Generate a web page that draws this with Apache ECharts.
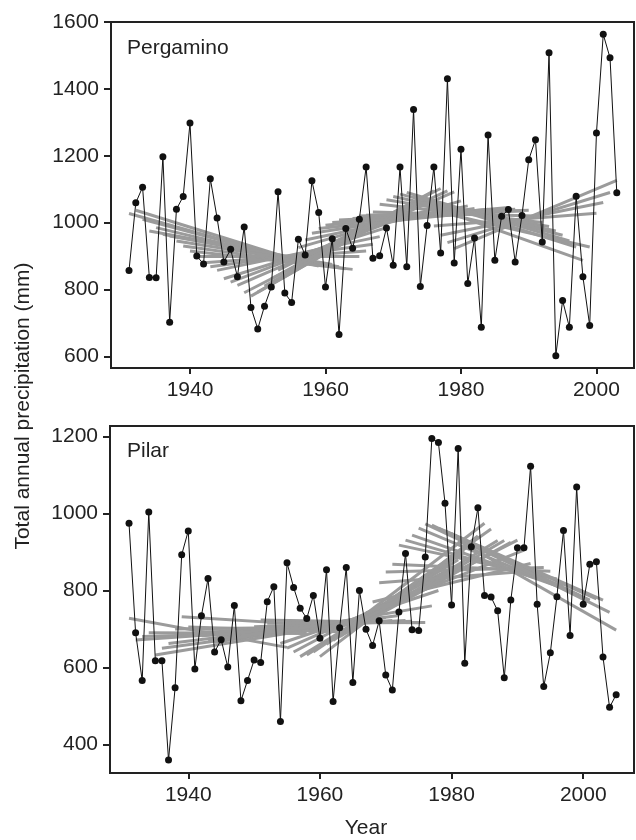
<!DOCTYPE html>
<html>
<head>
<meta charset="utf-8">
<script src="https://cdn.jsdelivr.net/npm/echarts@6/dist/echarts.min.js"></script>
<style>
html,body{margin:0;padding:0;background:#fff;}
#chart{width:636px;height:840px;}
</style>
</head>
<body>
<div id="chart"></div>
<script>
// ---------- Pergamino ----------
const pergYears = [1931,1932,1933,1934,1935,1936,1937,1938,1939,1940,1941,1942,1943,1944,1945,1946,1947,1948,1949,1950,
  1951,1952,1953,1954,1955,1956,1957,1958,1959,1960,1961,1962,1963,1964,1965,1966,1967,1968,1969,1970,
  1971,1972,1973,1974,1975,1976,1977,1978,1979,1980,1981,1982,1983,1984,1985,1986,1987,1988,1989,1990,
  1991,1992,1993,1994,1995,1996,1997,1998,1999,2000,2001,2002,2003];
const pergPrecip = [857,1059,1106,836,835,1197,702,1040,1078,1298,900,876,1131,1014,882,920,838,987,746,682,
  750,807,1092,789,761,950,903,1125,1030,807,952,665,982,923,1010,1166,893,901,984,872,
  1166,868,1338,809,991,1166,909,1430,879,1219,818,954,687,1262,887,1019,1039,882,1021,1188,
  1248,942,1508,602,767,687,1079,838,692,1268,1563,1493,1089];
// trend segments (window start year/value, end year/value)
const pergSegStartYear = [1931,1932,1933,1934,1935,1936,1937,1938,1939,1940,1941,1942,1943,1944,1945,1946,1947,1948,1949,1950,
  1951,1952,1953,1954,1955,1956,1957,1958,1959,1960,1961,1962,1963,1964,1965,1966,1967,1968,1969,1970,
  1971,1972,1973,1974,1975,1976,1977,1978,1979];
const pergSegEndYear = [1955,1956,1957,1958,1959,1960,1961,1962,1963,1964,1965,1966,1967,1968,1969,1970,1971,1972,1973,1974,
  1975,1976,1977,1978,1979,1980,1981,1982,1983,1984,1985,1986,1987,1988,1989,1990,1991,1992,1993,1994,
  1995,1996,1997,1998,1999,2000,2001,2002,2003];
const pergSegStartVal = [1027,1037,1010,975,985,965,960,945,930,915,900,880,868,857,832,822,812,790,780,792,
  810,832,858,872,882,925,948,968,982,992,1000,1008,1000,1012,1020,1022,1032,1055,1068,1078,
  1085,1090,1080,1060,1040,990,962,940,922];
const pergSegEndVal = [890,885,880,885,870,872,875,868,862,860,900,915,935,958,985,1005,1022,1040,1058,1070,
  1082,1095,1102,1095,1092,1065,1050,1042,1032,1040,1030,1032,1045,1040,1035,1037,1020,1000,988,975,
  962,945,927,887,927,1028,1060,1090,1126];

// ---------- Pilar ----------
const pilarYears = [1931,1932,1933,1934,1935,1936,1937,1938,1939,1940,1941,1942,1943,1944,1945,1946,1947,1948,1949,1950,
  1951,1952,1953,1954,1955,1956,1957,1958,1959,1960,1961,1962,1963,1964,1965,1966,1967,1968,1969,1970,
  1971,1972,1973,1974,1975,1976,1977,1978,1979,1980,1981,1982,1983,1984,1985,1986,1987,1988,1989,1990,
  1991,1992,1993,1994,1995,1996,1997,1998,1999,2000,2001,2002,2003,2004,2005];
const pilarPrecip = [975,690,566,1004,617,617,359,547,893,955,596,734,831,640,672,601,761,513,566,619,
  613,771,810,459,872,808,754,727,787,676,854,511,703,860,561,800,699,657,721,580,
  541,744,896,698,696,887,1195,1185,1027,762,1169,611,914,1015,787,783,747,573,775,911,
  911,1123,764,550,638,784,956,683,1069,764,868,875,627,496,529];
const pilarSegStartYear = [1931,1932,1933,1934,1935,1936,1937,1938,1939,1940,1941,1942,1943,1944,1945,1946,1947,1948,1949,1950,
  1951,1952,1953,1954,1955,1956,1957,1958,1959,1960,1961,1962,1963,1964,1965,1966,1967,1968,1969,1970,
  1971,1972,1973,1974,1975,1976,1977,1978,1979,1980,1981];
const pilarSegEndYear = [1955,1956,1957,1958,1959,1960,1961,1962,1963,1964,1965,1966,1967,1968,1969,1970,1971,1972,1973,1974,
  1975,1976,1977,1978,1979,1980,1981,1982,1983,1984,1985,1986,1987,1988,1989,1990,1991,1992,1993,1994,
  1995,1996,1997,1998,1999,2000,2001,2002,2003,2004,2005];
const pilarSegStartVal = [728,671,680,690,632,650,662,700,732,705,692,682,672,665,670,676,690,682,700,706,
  723,715,690,662,650,640,628,632,640,628,660,670,680,690,700,720,742,770,820,848,
  868,918,931,944,962,973,970,962,955,948,930];
const pilarSegEndVal = [652,700,692,688,700,705,712,705,706,692,700,712,720,728,735,730,722,735,722,720,
  716,717,760,800,830,858,880,900,920,942,975,960,930,930,925,931,905,870,852,860,
  850,830,812,800,790,782,775,778,775,743,697];

// tick labels
const pergXTicks = [1940,1960,1980,2000];
const pergYTicks = [600,800,1000,1200,1400,1600];
const pilarXTicks = [1940,1960,1980,2000];
const pilarYTicks = [400,600,800,1000,1200];

const FONT = 'Liberation Sans';
const INK = '#222';

function pairs(xs, ys){ return xs.map((x,i)=>[x, ys[i]]); }
function segs(sx, sv, ex, ev){ return sx.map((x,i)=>({coords:[[x, sv[i]],[ex[i], ev[i]]]})); }

function xAxisDef(grid, min, max, ticks){
  return {
    type:'value', gridIndex:grid, min:min, max:max,
    axisLine:{show:true, onZero:false, lineStyle:{color:INK, width:2}},
    axisTick:{show:true, inside:false, length:6, customValues:ticks, lineStyle:{color:INK, width:2}},
    axisLabel:{show:true, customValues:ticks, fontSize:21, color:INK, fontFamily:FONT, margin:12,
      formatter:(v)=>String(v)},
    splitLine:{show:false}
  };
}
function yAxisDef(grid, min, max, ticks){
  return {
    type:'value', gridIndex:grid, min:min, max:max,
    axisLine:{show:true, onZero:false, lineStyle:{color:INK, width:2}},
    axisTick:{show:true, inside:false, length:7, customValues:ticks, lineStyle:{color:INK, width:2}},
    axisLabel:{show:true, customValues:ticks, fontSize:21, color:INK, fontFamily:FONT, margin:12,
      formatter:(v)=>String(v)},
    splitLine:{show:false}
  };
}

const chart = echarts.init(document.getElementById('chart'), null, {renderer:'canvas'});
const option = {
  animation:false,
  backgroundColor:'#fff',
  grid:[
    {left:111, top:22, width:523, height:346, show:true, borderColor:INK, borderWidth:2, containLabel:false},
    {left:110, top:426, width:524, height:347, show:true, borderColor:INK, borderWidth:2, containLabel:false}
  ],
  xAxis:[
    xAxisDef(0, 1928.34, 2005.54, pergXTicks),
    xAxisDef(1, 1928.11, 2007.71, pilarXTicks)
  ],
  yAxis:[
    yAxisDef(0, 565, 1600, pergYTicks),
    yAxisDef(1, 325.3, 1227.8, pilarYTicks)
  ],
  series:[
    {type:'lines', coordinateSystem:'cartesian2d', xAxisIndex:0, yAxisIndex:0, z:1,
      data:segs(pergSegStartYear, pergSegStartVal, pergSegEndYear, pergSegEndVal),
      lineStyle:{color:'#9b9b9b', width:3, opacity:1}, silent:true},
    {type:'line', xAxisIndex:0, yAxisIndex:0, z:3, data:pairs(pergYears, pergPrecip),
      symbol:'circle', symbolSize:7, showSymbol:true,
      itemStyle:{color:'#111'}, lineStyle:{color:'#111', width:1}, silent:true},
    {type:'lines', coordinateSystem:'cartesian2d', xAxisIndex:1, yAxisIndex:1, z:1,
      data:segs(pilarSegStartYear, pilarSegStartVal, pilarSegEndYear, pilarSegEndVal),
      lineStyle:{color:'#9b9b9b', width:3, opacity:1}, silent:true},
    {type:'line', xAxisIndex:1, yAxisIndex:1, z:3, data:pairs(pilarYears, pilarPrecip),
      symbol:'circle', symbolSize:7, showSymbol:true,
      itemStyle:{color:'#111'}, lineStyle:{color:'#111', width:1}, silent:true}
  ],
  graphic:[
    {type:'text', left:127, top:38, style:{text:'Pergamino', fontSize:21, fontFamily:FONT, fill:INK}},
    {type:'text', left:127, top:441, style:{text:'Pilar', fontSize:21, fontFamily:FONT, fill:INK}},
    {type:'text', x:23, y:406, rotation:Math.PI/2,
      style:{text:'Total annual precipitation (mm)', fontSize:21, fontFamily:FONT, fill:INK,
        align:'center', verticalAlign:'middle'}},
    {type:'text', x:366, y:828,
      style:{text:'Year', fontSize:21, fontFamily:FONT, fill:INK, align:'center', verticalAlign:'middle'}}
  ]
};
chart.setOption(option);
</script>
</body>
</html>
